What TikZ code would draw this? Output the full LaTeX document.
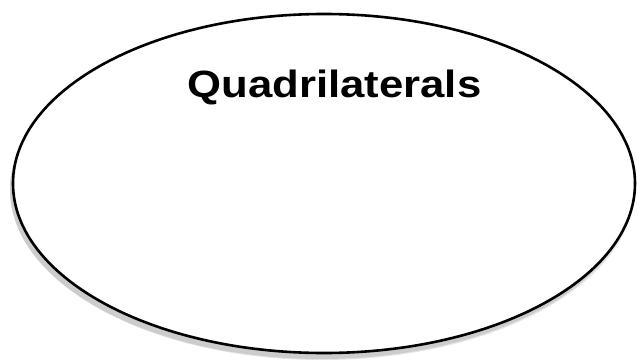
\documentclass[tikz,border=0pt]{standalone}
\usepackage{fontspec}
\setmainfont{Liberation Sans}
\begin{document}
\begin{tikzpicture}[x=1pt,y=1pt,
  outline/.style={draw=black,line width=2.6pt,fill=white},
  shadowfill/.style={fill=black!20,draw=none},
  title/.style={font=\bfseries\fontsize{38}{40}\selectfont,xscale=1.15,anchor=base,inner sep=0pt}]
\useasboundingbox (0,0) rectangle (637,362);
\fill[black!10] (322,172.5) ellipse [x radius=312, y radius=170.5];
\path[shadowfill] (321,172.5) ellipse [x radius=311, y radius=169.5];
\path[outline] (324,178.5) ellipse [x radius=311, y radius=169.5];
\node[title] (t) at (334.5,264.5) {Quadrilaterals};
\end{tikzpicture}
\end{document}
